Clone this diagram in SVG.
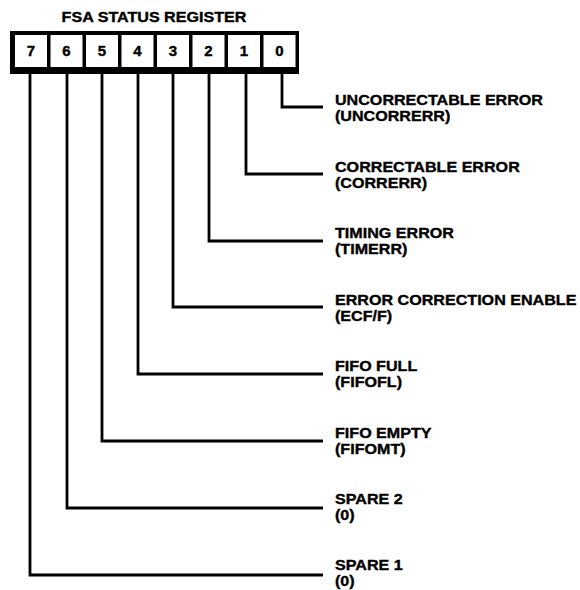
<svg xmlns="http://www.w3.org/2000/svg" width="580" height="590" viewBox="0 0 580 590">
<style>
.t{font-family:"Liberation Sans",Arial,sans-serif;font-weight:bold;font-size:14px;fill:#000;stroke:#000;stroke-width:0.35}
.d{font-family:"Liberation Sans",Arial,sans-serif;font-weight:bold;font-size:15px;fill:#000;stroke:#000;stroke-width:0.4;text-anchor:middle}
.c{fill:#fff}
.w{fill:none;stroke:#000;stroke-width:2.8}
</style>
<rect width="580" height="590" fill="#fff"/>
<g id="title" transform="translate(154 0) scale(1.15 1)"><text class="t" x="0" y="22" text-anchor="middle">FSA STATUS REGISTER</text></g>
<g id="register">
<rect x="10" y="31" width="289" height="43" fill="#000"/>
<rect class="c" x="15" y="35" width="32" height="32"/>
<rect class="c" x="50.5" y="35" width="32" height="32"/>
<rect class="c" x="86" y="35" width="32" height="32"/>
<rect class="c" x="121.5" y="35" width="32" height="32"/>
<rect class="c" x="157" y="35" width="32" height="32"/>
<rect class="c" x="192.5" y="35" width="32" height="32"/>
<rect class="c" x="228" y="35" width="32" height="32"/>
<rect class="c" x="263.5" y="35" width="32" height="32"/>
<text class="d" x="31" y="56">7</text>
<text class="d" x="66.5" y="56">6</text>
<text class="d" x="102" y="56">5</text>
<text class="d" x="137.5" y="56">4</text>
<text class="d" x="173" y="56">3</text>
<text class="d" x="208.5" y="56">2</text>
<text class="d" x="244" y="56">1</text>
<text class="d" x="279.5" y="56">0</text>
</g>
<g id="connectors">
<path class="w" d="M282 73V107H323"/>
<path class="w" d="M246 73V174H323"/>
<path class="w" d="M209 73V241H323"/>
<path class="w" d="M173 73V307H323"/>
<path class="w" d="M138 73V374H323"/>
<path class="w" d="M102 73V441H323"/>
<path class="w" d="M67 73V508H323"/>
<path class="w" d="M30 73V575H323"/>
</g>
<g id="bit0" transform="translate(335 0) scale(1.15 1)"><text class="t" x="0" y="105">UNCORRECTABLE ERROR</text><text class="t" x="0" y="121">(UNCORRERR)</text></g>
<g id="bit1" transform="translate(335 0) scale(1.15 1)"><text class="t" x="0" y="172">CORRECTABLE ERROR</text><text class="t" x="0" y="188">(CORRERR)</text></g>
<g id="bit2" transform="translate(335 0) scale(1.15 1)"><text class="t" x="0" y="238">TIMING ERROR</text><text class="t" x="0" y="254">(TIMERR)</text></g>
<g id="bit3" transform="translate(335 0) scale(1.15 1)"><text class="t" x="0" y="305">ERROR CORRECTION ENABLE</text><text class="t" x="0" y="321">(ECF/F)</text></g>
<g id="bit4" transform="translate(335 0) scale(1.15 1)"><text class="t" x="0" y="371">FIFO FULL</text><text class="t" x="0" y="387">(FIFOFL)</text></g>
<g id="bit5" transform="translate(335 0) scale(1.15 1)"><text class="t" x="0" y="438">FIFO EMPTY</text><text class="t" x="0" y="454">(FIFOMT)</text></g>
<g id="bit6" transform="translate(335 0) scale(1.15 1)"><text class="t" x="0" y="504">SPARE 2</text><text class="t" x="0" y="520">(0)</text></g>
<g id="bit7" transform="translate(335 0) scale(1.15 1)"><text class="t" x="0" y="570">SPARE 1</text><text class="t" x="0" y="586">(0)</text></g>
</svg>
